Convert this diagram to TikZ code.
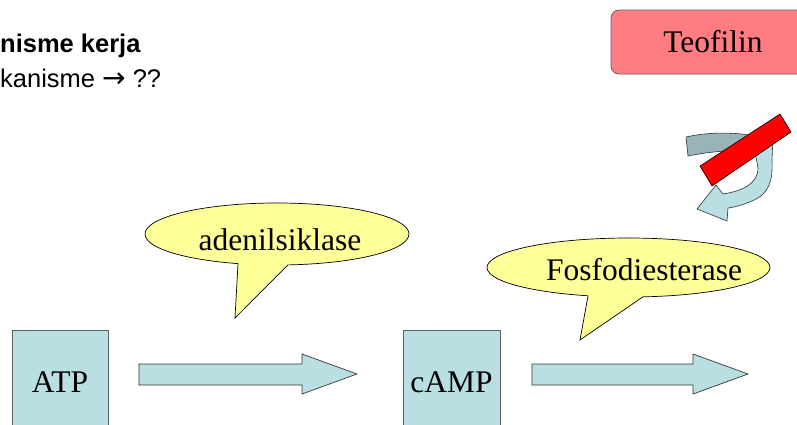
\documentclass[tikz,border=0pt]{standalone}
\usepackage{fontspec}
\setmainfont{Liberation Serif}
\setsansfont{Liberation Sans}
\newfontfamily\arrowfont{DejaVu Sans}
\usetikzlibrary{shapes.geometric}
\definecolor{boxblue}{RGB}{185,223,227}
\definecolor{backblue}{RGB}{152,180,184}
\definecolor{bubbleyellow}{RGB}{255,255,153}
\definecolor{teored}{RGB}{255,124,128}
\definecolor{edgegray}{RGB}{96,96,96}

\begin{document}
\begin{tikzpicture}[
  x=1pt, y=-1pt,
  every node/.style={font=\fontsize{31.5}{36}\selectfont, inner sep=0pt},
  molbox/.style={draw=edgegray, fill=boxblue, line width=0.8pt,
    minimum width=96pt, minimum height=104pt},
  blockarrow/.style={draw=black!80, fill=boxblue, line width=0.7pt},
  bubble/.style={ellipse, draw=black, fill=bubbleyellow, line width=0.7pt},
  tail/.style={fill=bubbleyellow},
  tailedge/.style={draw=black, line width=0.7pt},
  drugbox/.style={rounded corners=8pt, draw=edgegray, fill=teored,
    line width=0.8pt, minimum width=204pt, minimum height=64pt},
  ribbon/.style={draw=black!80, line width=0.6pt},
  title/.style={font=\sffamily\fontsize{25.5}{30}\selectfont, anchor=base west}
]
\useasboundingbox (0,0) rectangle (797,424);

\node[title] (judul) at (0,52) {\bfseries nisme kerja};
\node[title] (mek) at (0,87) {kanisme {\arrowfont\fontsize{28}{30}\selectfont →} ??};

\node[molbox] (atp) at (60,382) {ATP};
\node[molbox, minimum width=97pt] (camp) at (451.5,382) {cAMP};

\draw[blockarrow] (139,364) -- (302,364) -- (302,354) -- (357,374)
  -- (302,394) -- (302,385) -- (139,385) -- cycle;
\draw[blockarrow] (532,364) -- (693,364) -- (693,354) -- (748,374)
  -- (693,394) -- (693,385) -- (532,385) -- cycle;

\node[bubble, minimum width=264pt, minimum height=62pt] (adcshape) at (277,234) {};
\coordinate (adctip) at (235,318);
\fill[tail] (238,263.6) -- (adctip) -- (288,264.9) -- (288,260) -- (238,259) -- cycle;
\draw[tailedge] (238,263.6) -- (adctip) -- (288,264.9);
\node (adc) at (280,240) {adenilsiklase};

\node[bubble, minimum width=283pt, minimum height=59pt] (pdeshape) at (628.5,267.5) {};
\coordinate (pdetip) at (580,340);
\fill[tail] (588,295.8) -- (pdetip) -- (643,296.8) -- (643,292) -- (588,291) -- cycle;
\draw[tailedge] (588,295.8) -- (pdetip) -- (643,296.8);
\node (pde) at (644,270) {Fosfodiesterase};

\node[drugbox] (teo) at (713,42) {Teofilin};

\draw[ribbon, fill=backblue] (686,137) .. controls (712,131) and (745,132) .. (766,139)
  -- (752,151) .. controls (735,150) and (712,151) .. (688,156) -- cycle;
\draw[ribbon, fill=boxblue] (755,152) -- (773,137) -- (772,160)
  .. controls (773,181) and (769,194) .. (752,201)
  .. controls (745,204) and (736,207) .. (728,208) -- (727,221) -- (697,209)
  -- (716,185) -- (723,194) .. controls (742,191) and (758,184) .. (758,168) -- cycle;
\draw[fill=red, draw=black, line width=0.6pt] (700,166) -- (780,114) -- (791,132)
  -- (712,186) -- cycle;
\end{tikzpicture}
\end{document}
